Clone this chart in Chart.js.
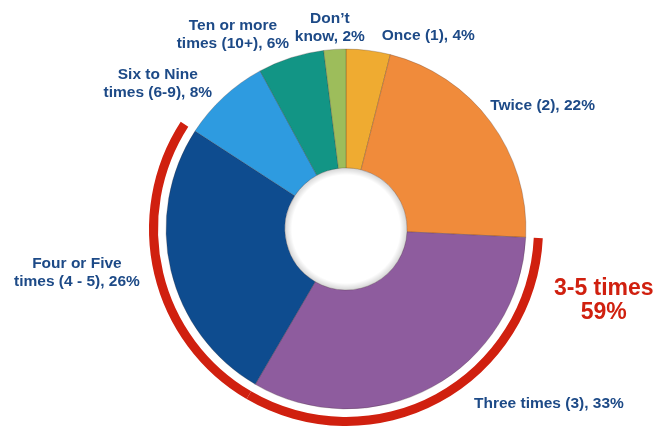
<!DOCTYPE html>
<html>
<head>
<meta charset="utf-8">
<script src="https://cdn.jsdelivr.net/npm/chart.js@4.4.1/dist/chart.umd.min.js"></script>
<style>
  html, body { margin: 0; padding: 0; background: #fff; }
  #wrap { width: 657px; height: 426px; }
</style>
</head>
<body>
<div id="wrap"><canvas id="freqChart" width="657" height="426"></canvas></div>
<script>
// data
const categories = ['Once (1)', 'Twice (2)', 'Three times (3)', 'Four or Five\ntimes (4 - 5)',
                    'Six to Nine\ntimes (6-9)', 'Ten or more\ntimes (10+)', 'Don\u2019t\nknow'];
const shares = [4, 22, 33, 26, 8, 6, 2];
const highlightIdx = [2, 3];           // slices grouped by the red bracket
const highlightName = '3-5 times';

// styles
const sliceColors = ['#efab31', '#f08b3b', '#8e5c9e', '#0e4c8f', '#2e9be0', '#129585', '#9dbd5b'];
const labelBlue = '#1d4a87';
const bracketRed = '#d0200f';
// label centre = slice mid point on the rim + this shift
const labelOffsets = [[60, -15], [52, -16], [117, 17], [-94, 2], [-66, -13], [-58, -23], [-5, -22]];

const bracketColors = shares.map((v, i) => highlightIdx.includes(i) ? bracketRed : 'rgba(0,0,0,0)');
const clear = shares.map(() => 'rgba(0,0,0,0)');

const sliceLabels = {
    id: 'sliceLabels',
    afterDatasetsDraw(chart) {
        const ctx = chart.ctx;
        const meta = chart.getDatasetMeta(2);
        const first = meta.data[0].getProps(['x', 'y', 'innerRadius'], true);

        // soft shadow round the hole
        ctx.save();
        const g = ctx.createRadialGradient(first.x, first.y, first.innerRadius - 7, first.x, first.y, first.innerRadius);
        g.addColorStop(0, 'rgba(0,0,0,0)');
        g.addColorStop(1, 'rgba(0,0,0,0.16)');
        ctx.beginPath();
        ctx.arc(first.x, first.y, first.innerRadius, 0, Math.PI * 2);
        ctx.fillStyle = g;
        ctx.fill();
        ctx.restore();

        ctx.save();
        ctx.font = 'bold 15.5px "Liberation Sans", Arial, sans-serif';
        ctx.fillStyle = labelBlue;
        ctx.textAlign = 'center';
        ctx.textBaseline = 'middle';
        meta.data.forEach((arc, i) => {
            const p = arc.getProps(['x', 'y', 'startAngle', 'endAngle', 'outerRadius'], true);
            const mid = (p.startAngle + p.endAngle) / 2;
            const cx = p.x + Math.cos(mid) * p.outerRadius + labelOffsets[i][0];
            const cy = p.y + Math.sin(mid) * p.outerRadius + labelOffsets[i][1];
            const lines = categories[i].split('\n');
            lines[lines.length - 1] += ', ' + shares[i] + '%';
            lines.forEach((t, k) => {
                ctx.fillText(t, cx, cy + (k - (lines.length - 1) / 2) * 18);
            });
        });

        // bracket caption, anchored at the start of the red arc
        const br = chart.getDatasetMeta(0).data[highlightIdx[0]].getProps(['x', 'y', 'startAngle', 'outerRadius'], true);
        const bx = br.x + Math.cos(br.startAngle) * br.outerRadius + 61;
        const by = br.y + Math.sin(br.startAngle) * br.outerRadius + 62;
        const total = highlightIdx.reduce((s, i) => s + shares[i], 0);
        ctx.font = 'bold 23px "Liberation Sans", Arial, sans-serif';
        ctx.fillStyle = bracketRed;
        ctx.fillText(highlightName, bx, by - 12);
        ctx.fillText(total + '%', bx, by + 12);
        ctx.restore();
    }
};

const ctx = document.getElementById('freqChart').getContext('2d');
const myChart = new Chart(ctx, {
    type: 'doughnut',
    data: {
        labels: categories,
        datasets: [
            {   // red bracket ring
                data: shares,
                backgroundColor: bracketColors,
                borderWidth: 0,
                hoverBorderWidth: 0,
                hoverOffset: 0,
                weight: 9
            },
            {   // white gap
                data: shares,
                backgroundColor: clear,
                borderWidth: 0,
                hoverBorderWidth: 0,
                hoverOffset: 0,
                weight: 8
            },
            {
                data: shares,
                backgroundColor: sliceColors,
                borderColor: 'rgba(60,40,40,0.25)',
                borderWidth: 1,
                hoverBorderWidth: 1,
                hoverOffset: 0,
                weight: 118.5
            }
        ]
    },
    options: {
        responsive: false,
        animation: false,
        events: [],
        cutout: '31%',
        rotation: 0,
        layout: { padding: { top: 32, bottom: 0, left: 146, right: 111 } },
        plugins: {
            legend: { display: false },
            tooltip: { enabled: false }
        }
    },
    plugins: [sliceLabels]
});
</script>
</body>
</html>
